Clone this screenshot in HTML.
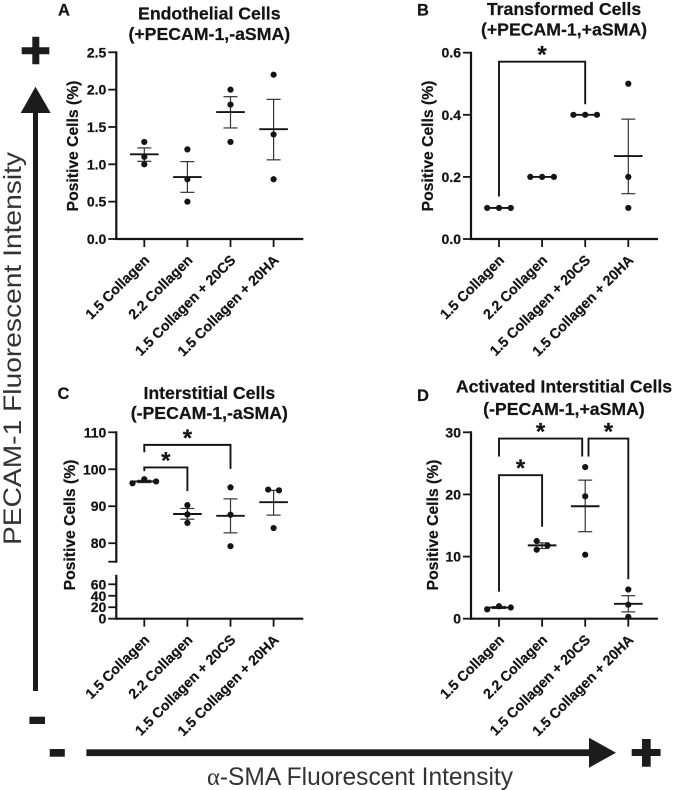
<!DOCTYPE html>
<html lang="en">
<head>
<meta charset="utf-8">
<title>Fluorescent intensity panels</title>
<style>
html,body{margin:0;padding:0;background:#fff;}
svg{display:block;font-family:"Liberation Sans",Arial,sans-serif;}
text[font-weight="bold"]{stroke:#141414;stroke-width:.22px;}
</style>
</head>
<body>
<svg id="figure" width="675" height="790" viewBox="0 0 675 790" xmlns="http://www.w3.org/2000/svg">
  <g fill="#1c1c1c">
    <rect x="33" y="110" width="5" height="581"/>
    <polygon points="35.5,86.7 50.7,113 20.7,113"/>
    <path d="M21.7 47.3H32.3V36.7H39.3V47.3H49.3V54.3H39.3V64.3H32.3V54.3H21.7Z"/>
    <rect x="29.4" y="716.7" width="15.6" height="7.3"/>
    <text transform="translate(21,545) rotate(-90)" font-size="25" fill="#333" textLength="393" lengthAdjust="spacingAndGlyphs">PECAM-1 Fluorescent Intensity</text>
  </g>
  <g fill="#1c1c1c">
    <rect x="86.4" y="749.3" width="505" height="6.8"/>
    <polygon points="589,737.7 616,752.7 589,767.7"/>
    <path d="M631.7 749H642V739H650.7V749H660.6V756H650.7V766.7H642V756H631.7Z"/>
    <rect x="49.7" y="749" width="15.1" height="7.7"/>
    <text x="207" y="785" font-size="25" fill="#333" textLength="306" lengthAdjust="spacingAndGlyphs"><tspan font-family="'Liberation Serif',serif">α</tspan>-SMA Fluorescent Intensity</text>
  </g>
  <g id="panels"></g>
</svg>
<script>
// Shared categories
const categories = ["1.5 Collagen", "2.2 Collagen", "1.5 Collagen + 20CS", "1.5 Collagen + 20HA"];
const axisTitle = "Positive Cells (%)";

// Panel A
const ticksA = [0.0, 0.5, 1.0, 1.5, 2.0, 2.5];
const pointsA = [[1.3, 1.1, 1.0], [1.2, 0.8, 0.5], [2.0, 1.8, 1.3], [2.2, 1.4, 0.8]];
const meansA = [1.134, 0.83, 1.70, 1.47];
const errHighA = [1.22, 1.036, 1.906, 1.87];
const errLowA = [1.04, 0.625, 1.487, 1.06];
const bracketsA = [];

// Panel B
const ticksB = [0.0, 0.2, 0.4, 0.6];
const pointsB = [[0.1, 0.1, 0.1], [0.2, 0.2, 0.2], [0.4, 0.4, 0.4], [0.5, 0.2, 0.1]];
const meansB = [0.1, 0.2, 0.4, 0.267];
const errHighB = [0.1, 0.2, 0.4, 0.386];
const errLowB = [0.1, 0.2, 0.4, 0.146];
// [from group, to group, bar level, from-leg end, to-leg end]
const bracketsB = [[0, 2, 0.571, 0.137, 0.434]];

// Panel C
const ticksC = [0, 20, 40, 60, 75, 80, 90, 100, 110];
const tickLabelsC = ["0", "20", "40", "60", "", "80", "90", "100", "110"];
const pointsC = [[96.2, 97.3, 96.7], [90.3, 87.8, 85.5], [95.1, 87.7, 79.2], [94.5, 94.3, 84.1]];
const meansC = [96.7, 87.9, 87.4, 91.1];
const errHighC = [97.0, 89.4, 92.0, 94.3];
const errLowC = [96.4, 86.5, 82.8, 87.6];
const bracketsC = [[0, 2, 106.6, 104.6, 100.1], [0, 1, 100.5, 99.5, 94.1]];

// Panel D
const ticksD = [0, 10, 20, 30];
const pointsD = [[1.5, 2.0, 1.8], [12.5, 11.8, 11.1], [24.4, 19.7, 10.3], [4.7, 2.25, 0.3]];
const meansD = [1.8, 11.8, 18.1, 2.4];
const errHighD = [1.95, 12.2, 22.3, 3.7];
const errLowD = [1.65, 11.3, 14.0, 1.1];
const bracketsD = [[0, 2, 29.0, 26.1, 26.1], [2, 3, 29.0, 26.1, 6.35], [0, 1, 23.1, 4.35, 14.8]];

const SVGNS = "http://www.w3.org/2000/svg";
const INK = "#141414";
const root = document.getElementById("panels");

function make(parent, tag, attrs, text) {
  const el = document.createElementNS(SVGNS, tag);
  for (const k in attrs) el.setAttribute(k, attrs[k]);
  if (text !== undefined) el.textContent = text;
  parent.appendChild(el);
  return el;
}
function line(parent, x1, y1, x2, y2, w, color) {
  return make(parent, "line", {x1, y1, x2, y2, stroke: color || INK, "stroke-width": w});
}
function linearScale(d0, d1, r0, r1) {
  return v => r0 + (v - d0) * (r1 - r0) / (d1 - d0);
}
function slug(s) {
  return s.toLowerCase().replace(/[^a-z0-9]+/g, "-").replace(/^-|-$/g, "");
}
// Swarm layout: nearby points in a group spread sideways, as Prism draws them.
function swarmOffsets(values, y) {
  const out = values.map(() => 0);
  const px = values.map(y);
  const order = px.map((p, i) => i).sort((a, b) => px[a] - px[b]);
  let clusters = [[order[0]]];
  for (let k = 1; k < order.length; k++) {
    const last = clusters[clusters.length - 1];
    if (px[order[k]] - px[last[last.length - 1]] < 6) last.push(order[k]);
    else clusters.push([order[k]]);
  }
  clusters.forEach(c => {
    if (c.length < 2) return;
    const members = c.slice().sort((a, b) => a - b);
    const spread = Math.max(...c.map(i => px[i])) - Math.min(...c.map(i => px[i]));
    members.forEach((idx, pos) => {
      if (c.length === 3 && spread < 5) out[idx] = (pos - 1) * 11.8;
      else out[idx] = pos % 2 === 0 ? -5.4 : 5.4;
    });
  });
  return out;
}

function drawPanel(p) {
  const g = make(root, "g", {});
  
  
  const xAt = i => p.x0 + i * 43.1;

  const letter = make(g, "text", {x: p.letterX, y: p.letterY, "font-size": 16.5, "font-weight": "bold", "text-anchor": "middle", fill: INK}, p.letter);
  
  

  p.titles.forEach((t, i) => {
    const title = make(g, "text", {x: t[1], y: t[2], "font-size": 17.7, "font-weight": "bold", "text-anchor": "middle", fill: INK}, t[0]);
    
    
  });

  const yTitle = make(g, "text", {transform: "translate(" + p.titleX + "," + p.titleY + ") rotate(-90)", "font-size": 15.7, "font-weight": "bold", "text-anchor": "middle", fill: INK}, axisTitle);
  
  

  // y axis spine(s)
  p.segments.forEach(seg => {
    const spine = line(g, p.axisX, p.y(seg[0]) + 1, p.axisX, p.y(seg[1]) - 1, 2.2);
    
    
  });
  // y ticks
  p.ticks.forEach((v, i) => {
    const ty = p.y(v);
    const tick = line(g, p.axisX - 8, ty, p.axisX, ty, 1.8);
    
    
    const label = p.labels[i];
    if (label !== "") {
      const t = make(g, "text", {x: p.axisX - 10, y: ty + 5, "font-size": 14, "font-weight": "bold", "text-anchor": "end", fill: INK}, label);
      
      
    }
  });
  // x axis
  const base = p.y(0);
  const xAxis = line(g, p.axisX - 1, base, p.axisX + 187, base, 2.2);
  
  
  categories.forEach((c, i) => {
    const tick = line(g, xAt(i), base, xAt(i), base + 8, 1.8);
    
    
    const ax = xAt(i) + 6, ay = base + 22;
    const t = make(g, "text", {transform: "translate(" + ax + "," + ay + ") rotate(-45)", "font-size": 14.2, "font-weight": "bold", "text-anchor": "end", fill: INK}, c);
    
    
  });

  // groups
  categories.forEach((c, i) => {
    const cx = xAt(i);
    const group = make(g, "g", {});
    
    
    const hi = p.y(p.errHigh[i]), lo = p.y(p.errLow[i]), m = p.y(p.means[i]);
    const stem = line(group, cx, hi, cx, lo, 1.2, "#333");
    
    
    const capTop = line(group, cx - 7, hi, cx + 7, hi, 1.2, "#333");
    
    
    const capBottom = line(group, cx - 7, lo, cx + 7, lo, 1.2, "#333");
    
    
    const mean = line(group, cx - 14.3, m, cx + 14.3, m, 1.9);
    
    
    const vals = p.points[i];
    const offs = swarmOffsets(vals, p.y);
    vals.forEach((v, j) => {
      const dot = make(group, "circle", {cx: cx + offs[j], cy: p.y(v), r: 3.1, fill: INK});
      
      
    });
  });

  // significance brackets
  p.brackets.forEach(b => {
    // a bracket that shares an end group with another at the same level leans away from it
    const shared = p.brackets.filter(o => o !== b && o[2] === b[2]).length > 0;
    const x1 = xAt(b[0]) + (shared && b[0] === 2 ? 3.3 : 0);
    const x2 = xAt(b[1]) - (shared && b[1] === 2 ? 3 : 0);
    const yBar = p.y(b[2]);
    const path = make(g, "path", {d: "M" + x1 + " " + p.y(b[3]) + "V" + yBar + "H" + x2 + "V" + p.y(b[4]), fill: "none", stroke: INK, "stroke-width": 1.9});
    
    
    const star = make(g, "text", {x: (x1 + x2) / 2, y: yBar + 1, "font-size": 24, "font-weight": "bold", "text-anchor": "middle", fill: INK}, "*");
    
    
  });
}

const breakUpperC = linearScale(75, 110, 561.7, 432.3);
const breakLowerC = linearScale(0, 75, 618.7, 575.7);

drawPanel({
  letter: "A", letterX: 64, letterY: 15.5, axisX: 116.3, x0: 144.3,
  titles: [["Endothelial Cells", 209.3, 19.5], ["(+PECAM-1,-aSMA)", 209.3, 40]],
  titleX: 78, titleY: 146,
  y: linearScale(0, 2.5, 239, 52.3), segments: [[0, 2.5]],
  ticks: ticksA, labels: ticksA.map(v => v.toFixed(1)),
  points: pointsA, means: meansA, errHigh: errHighA, errLow: errLowA, brackets: bracketsA
});
drawPanel({
  letter: "B", letterX: 423, letterY: 15.5, axisX: 471, x0: 499,
  titles: [["Transformed Cells", 564, 15], ["(+PECAM-1,+aSMA)", 564, 35.5]],
  titleX: 433, titleY: 146,
  y: linearScale(0, 0.6, 239, 52.7), segments: [[0, 0.6]],
  ticks: ticksB, labels: ticksB.map(v => v.toFixed(1)),
  points: pointsB, means: meansB, errHigh: errHighB, errLow: errLowB, brackets: bracketsB
});
drawPanel({
  letter: "C", letterX: 63.5, letterY: 399, axisX: 116.3, x0: 144.3,
  titles: [["Interstitial Cells", 209.3, 399], ["(-PECAM-1,-aSMA)", 209.3, 419]],
  titleX: 75, titleY: 525,
  y: v => v >= 75 ? breakUpperC(v) : breakLowerC(v), segments: [[0, 74.9], [75, 110]],
  ticks: ticksC, labels: tickLabelsC,
  points: pointsC, means: meansC, errHigh: errHighC, errLow: errLowC, brackets: bracketsC
});
drawPanel({
  letter: "D", letterX: 423, letterY: 401, axisX: 471, x0: 499,
  titles: [["Activated Interstitial Cells", 564, 392.5], ["(-PECAM-1,+aSMA)", 564, 415]],
  titleX: 438, titleY: 525,
  y: linearScale(0, 30, 618.7, 432.3), segments: [[0, 30]],
  ticks: ticksD, labels: ticksD.map(v => String(v)),
  points: pointsD, means: meansD, errHigh: errHighD, errLow: errLowD, brackets: bracketsD
});
</script>
</body>
</html>
